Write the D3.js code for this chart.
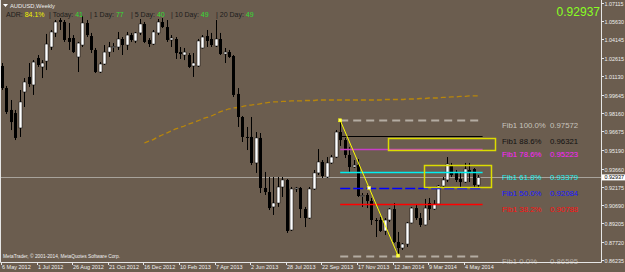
<!DOCTYPE html>
<html>
<head>
<meta charset="utf-8">
<script src="https://cdn.jsdelivr.net/npm/d3@7"></script>
<style>
  html, body { margin: 0; padding: 0; background: #6b5d4f; }
  svg { display: block; font-family: "Liberation Sans", Arial, sans-serif; }
</style>
</head>
<body>
<svg id="chart" width="625" height="272"></svg>
<script>
// weekly AUDUSD bars, first bar = week of 6 May 2012
const opens = [
  1.0198, 1.0019, 0.9841, 0.9816, 0.9695, 0.9987, 1.0109, 1.0044, 1.0263, 1.0190,
  1.0238, 1.0352, 1.0466, 1.0571, 1.0555, 1.0425, 1.0425, 1.0271, 1.0368, 1.0547,
  1.0441, 1.0328, 1.0149, 1.0214, 1.0311, 1.0352, 1.0352, 1.0417, 1.0368, 1.0449,
  1.0401, 1.0466, 1.0539, 1.0409, 1.0376, 1.0466, 1.0555, 1.0514, 1.0409, 1.0417,
  1.0311, 1.0287, 1.0287, 1.0198, 1.0198, 1.0344, 1.0441, 1.0417, 1.0360, 1.0417,
  1.0295, 1.0311, 1.0279, 0.9971, 0.9784, 0.9622, 0.9622, 0.9411, 0.9614, 0.9208,
  0.9175, 0.9054, 0.9086, 0.9216, 0.9273, 0.8867, 0.9200, 0.9208, 0.9037, 0.8964,
  0.9200, 0.9330, 0.9419, 0.9297, 0.9411, 0.9459, 0.9662, 0.9597, 0.9476, 0.9378,
  0.9394, 0.9143, 0.9151, 0.9102, 0.8948, 0.8948, 0.8859, 0.8948, 0.9037, 0.8770,
  0.8721, 0.8753, 0.8924, 0.9045, 0.8964, 0.8908, 0.9086, 0.9037, 0.9078, 0.9224,
  0.9273, 0.9394, 0.9330, 0.9281, 0.9256, 0.9354, 0.9362, 0.9232
];
const highs = [
  1.0222, 1.0036, 0.9922, 0.9841, 1.0003, 1.0100, 1.0222, 1.0246, 1.0287, 1.0246,
  1.0458, 1.0490, 1.0571, 1.0587, 1.0571, 1.0547, 1.0449, 1.0393, 1.0604, 1.0571,
  1.0466, 1.0344, 1.0230, 1.0368, 1.0393, 1.0384, 1.0474, 1.0433, 1.0474, 1.0466,
  1.0474, 1.0579, 1.0555, 1.0425, 1.0490, 1.0579, 1.0587, 1.0571, 1.0449, 1.0433,
  1.0352, 1.0344, 1.0303, 1.0303, 1.0417, 1.0449, 1.0490, 1.0466, 1.0571, 1.0466,
  1.0344, 1.0328, 1.0287, 1.0019, 0.9792, 0.9703, 0.9784, 0.9662, 0.9654, 0.9338,
  0.9297, 0.9297, 0.9297, 0.9297, 0.9281, 0.9216, 0.9216, 0.9216, 0.9054, 0.9216,
  0.9354, 0.9524, 0.9435, 0.9459, 0.9476, 0.9678, 0.97572, 0.9614, 0.9540, 0.9435,
  0.9443, 0.9167, 0.9167, 0.9127, 0.8964, 0.8972, 0.8964, 0.9045, 0.9086, 0.8851,
  0.8761, 0.8932, 0.9054, 0.9078, 0.9005, 0.9119, 0.9127, 0.9110, 0.9232, 0.9297,
  0.9459, 0.9411, 0.9354, 0.9330, 0.9411, 0.9411, 0.9370, 0.9313
];
const lows = [
  1.0003, 0.9808, 0.9678, 0.9597, 0.9622, 0.9865, 1.0027, 0.9963, 1.0190, 1.0100,
  1.0165, 1.0328, 1.0433, 1.0490, 1.0393, 1.0328, 1.0303, 1.0149, 1.0352, 1.0433,
  1.0303, 1.0141, 1.0141, 1.0206, 1.0271, 1.0311, 1.0328, 1.0287, 1.0328, 1.0393,
  1.0384, 1.0449, 1.0384, 1.0352, 1.0368, 1.0449, 1.0506, 1.0393, 1.0352, 1.0255,
  1.0255, 1.0246, 1.0182, 1.0109, 1.0190, 1.0340, 1.0352, 1.0352, 1.0352, 1.0287,
  1.0222, 1.0263, 0.9946, 0.9703, 0.9581, 0.9516, 0.9394, 0.9330, 0.9167, 0.9151,
  0.9029, 0.8989, 0.9054, 0.9135, 0.8843, 0.8859, 0.9175, 0.8964, 0.8891, 0.8956,
  0.9192, 0.9313, 0.9289, 0.9289, 0.9403, 0.9451, 0.9549, 0.9451, 0.9338, 0.9370,
  0.9135, 0.9054, 0.9045, 0.8908, 0.8810, 0.8851, 0.8826, 0.8932, 0.8761, 0.86595,
  0.8705, 0.8729, 0.8920, 0.8948, 0.8891, 0.8904, 0.8948, 0.9029, 0.9070, 0.9216,
  0.9256, 0.9297, 0.9256, 0.9208, 0.9248, 0.9256, 0.9216, 0.9208
];
const closes = [
  1.0019, 0.9825, 0.9743, 0.9614, 0.9906, 1.0068, 1.0052, 1.0230, 1.0206, 1.0222,
  1.0376, 1.0474, 1.0555, 1.0555, 1.0409, 1.0393, 1.0311, 1.0384, 1.0547, 1.0449,
  1.0328, 1.0149, 1.0214, 1.0311, 1.0352, 1.0356, 1.0417, 1.0368, 1.0449, 1.0409,
  1.0466, 1.0539, 1.0393, 1.0376, 1.0474, 1.0555, 1.0514, 1.0409, 1.0425, 1.0303,
  1.0295, 1.0311, 1.0190, 1.0222, 1.0401, 1.0433, 1.0401, 1.0368, 1.0417, 1.0295,
  1.0311, 1.0271, 0.9963, 0.9784, 0.9622, 0.9614, 0.9411, 0.9614, 0.9208, 0.9175,
  0.9045, 0.9086, 0.9216, 0.9273, 0.8859, 0.9200, 0.9208, 0.9037, 0.8964, 0.9200,
  0.9330, 0.9419, 0.9305, 0.9411, 0.9459, 0.9662, 0.9597, 0.9476, 0.9378, 0.9394,
  0.9143, 0.9147, 0.9102, 0.8948, 0.8940, 0.8859, 0.8948, 0.9037, 0.8770, 0.8721,
  0.8753, 0.8924, 0.9045, 0.8964, 0.8908, 0.9045, 0.9037, 0.9078, 0.9224, 0.9273,
  0.9403, 0.9313, 0.9273, 0.9256, 0.9362, 0.9330, 0.9232, 0.92937
];

// moving average, drawn from bar 32 on
const maStart = 32;
const maValues = [
  0.9573, 0.9589, 0.9601, 0.9622, 0.9638, 0.9654, 0.9670, 0.9687, 0.9699, 0.9711,
  0.9727, 0.9739, 0.9752, 0.9768, 0.9780, 0.9792, 0.9808, 0.9825, 0.9837, 0.9849,
  0.9857, 0.9861, 0.9869, 0.9877, 0.9881, 0.9885, 0.9890, 0.9898, 0.9902, 0.9906,
  0.9906, 0.9910, 0.9910, 0.9914, 0.9914, 0.9914, 0.9918, 0.9918, 0.9918, 0.9922,
  0.9922, 0.9922, 0.9922, 0.9922, 0.9922, 0.9922, 0.9922, 0.9922, 0.9922, 0.9922,
  0.9922, 0.9922, 0.9922, 0.9922, 0.9926, 0.9926, 0.9926, 0.9926, 0.9926, 0.9930,
  0.9930, 0.9930, 0.9934, 0.9934, 0.9938, 0.9938, 0.9938, 0.9943, 0.9943, 0.9947,
  0.9947, 0.9951, 0.9951, 0.9955, 0.9955, 0.9955
];

const dateLabels = ['6 May 2012', '1 Jul 2012', '26 Aug 2012', '21 Oct 2012', '16 Dec 2012',
  '10 Feb 2013', '7 Apr 2013', '2 Jun 2013', '28 Jul 2013', '22 Sep 2013', '17 Nov 2013',
  '12 Jan 2014', '9 Mar 2014', '4 May 2014'];
const dateLabelStep = 8;

const priceTicks = ['1.07115', '1.05630', '1.04145', '1.02615', '1.01130', '0.99645', '0.98160',
  '0.96675', '0.95190', '0.93660', '0.92175', '0.90690', '0.89205', '0.87720', '0.86235'];

const bid = 0.92937;

// fibo drawn from the swing high bar to the swing low bar
const fibHighBar = 76, fibLowBar = 89, fibEndBar = 108;
const fibNames = ['Fib1 100.0%', 'Fib1 88.6%', 'Fib1 78.6%', 'Fib1 61.8%', 'Fib1 50.0%', 'Fib1 38.2%', 'Fib1 0.0%'];
const fibPrices = [0.97572, 0.96321, 0.95223, 0.93379, 0.92084, 0.90788, 0.86595];

// user boxes: [from bar, to bar, top price, bottom price]
const boxes = [
  [86.7, 110.8, 0.9614, 0.9516],
  [94.8, 109.9, 0.9394, 0.9216]
];

// ADR indicator line
const adrParts = [
  ['ADR: ', '84.1%'], ['| Today: ', '41'], ['| 1 Day: ', '77'],
  ['| 5 Day: ', '40'], ['| 10 Day: ', '49'], ['|  20 Day: ', '49']
];

const fibStyle = [
  { line: '#b4aca2', text: '#c8c4be', width: 2, dash: '8,5' },
  { line: '#000000', text: '#111111', width: 1, dash: null },
  { line: '#c83cc8', text: '#ff20ff', width: 1.5, dash: null },
  { line: '#00f0f0', text: '#20f0f0', width: 1.5, dash: null },
  { line: '#0000ff', text: '#1818ff', width: 1.5, dash: '10,3' },
  { line: '#ff0000', text: '#ff1010', width: 1.5, dash: null },
  { line: '#b4aca2', text: '#b4aca2', width: 2, dash: '8,5' }
];

const svg = d3.select('#chart');
const plotRight = 601, plotBottom = 262;

const x = d3.scaleLinear().domain([0, 107]).range([2, 478.15]);
const y = d3.scaleLinear().domain([0.86235, 1.07115]).range([260, 2.7]);
const snap = v => Math.round(v) + 0.5;

svg.append('rect').attr('width', 625).attr('height', 272).attr('fill', '#6b5d4f');

// bid line
svg.append('line')
  .attr('x1', 0).attr('x2', plotRight)
  .attr('y1', snap(y(bid))).attr('y2', snap(y(bid)))
  .attr('stroke', '#a8a39c').attr('stroke-width', 1);

// moving average
const ma = maValues.map((v, k) => ({ i: maStart + k, v }));
svg.append('path')
  .datum(ma)
  .attr('d', d3.line().x(d => x(d.i)).y(d => y(d.v)).curve(d3.curveMonotoneX))
  .attr('fill', 'none')
  .attr('stroke', '#b8860b')
  .attr('stroke-width', 1.3)
  .attr('stroke-dasharray', '5,3');

// candles
const bars = opens.map((o, i) => ({ i, o, h: highs[i], l: lows[i], c: closes[i] }));
const cg = svg.append('g');
cg.selectAll('line').data(bars).join('line')
  .attr('x1', d => snap(x(d.i))).attr('x2', d => snap(x(d.i)))
  .attr('y1', d => y(d.h)).attr('y2', d => y(d.l))
  .attr('stroke', '#000').attr('stroke-width', 1);
cg.selectAll('rect').data(bars).join('rect')
  .attr('x', d => Math.round(x(d.i)) - 1)
  .attr('width', 3)
  .attr('y', d => y(Math.max(d.o, d.c)))
  .attr('height', d => Math.max(1, Math.abs(y(d.o) - y(d.c))))
  .attr('fill', d => d.c >= d.o ? '#fff' : '#000')
  .attr('stroke', d => d.c >= d.o ? '#000' : 'none')
  .attr('stroke-width', 0.5);

// fibo levels
const fg = svg.append('g');
fibPrices.forEach((p, k) => {
  const s = fibStyle[k];
  const yy = Math.round(y(p)) + 0.5;
  const ln = fg.append('line')
    .attr('x1', x(fibHighBar)).attr('x2', x(fibEndBar))
    .attr('y1', yy).attr('y2', yy)
    .attr('stroke', s.line).attr('stroke-width', s.width);
  if (s.dash) ln.attr('stroke-dasharray', s.dash);
  fg.append('text').attr('x', 502).attr('y', yy + 7.5)
    .attr('font-size', 7.8).attr('fill', s.text).text(fibNames[k]);
  fg.append('text').attr('x', 550).attr('y', yy + 7.5)
    .attr('font-size', 7.8).attr('fill', s.text).text(p.toFixed(5));
});

// boxes
svg.selectAll('rect.box').data(boxes).join('rect')
  .attr('class', 'box')
  .attr('x', d => Math.round(x(d[0])) + 0.5)
  .attr('y', d => Math.round(y(d[2])) + 0.5)
  .attr('width', d => Math.round(x(d[1]) - x(d[0])))
  .attr('height', d => Math.round(y(d[3]) - y(d[2])))
  .attr('fill', 'none').attr('stroke', '#dcdc00').attr('stroke-width', 1.5);

// swing trend line with its handles
const p1 = [x(fibHighBar), y(fibPrices[0])];
const p2 = [x(fibLowBar), y(fibPrices[6])];
svg.append('line')
  .attr('x1', p1[0]).attr('y1', p1[1]).attr('x2', p2[0]).attr('y2', p2[1])
  .attr('stroke', '#ffff00').attr('stroke-width', 1);
[p1, p2, [(p1[0] + p2[0]) / 2, (p1[1] + p2[1]) / 2]].forEach((pt, k) => {
  svg.append('rect')
    .attr('x', pt[0] - 1.5).attr('y', pt[1] - 1.5).attr('width', 3).attr('height', 3)
    .attr('fill', k < 2 ? '#ffff60' : '#ffffff')
    .attr('stroke', '#ffff00').attr('stroke-width', 0.5);
});

// frame
svg.append('path')
  .attr('d', `M0.5,0V${plotBottom + 0.5}H${plotRight + 0.5}V0`)
  .attr('fill', 'none').attr('stroke', '#e6e6e6').attr('stroke-width', 1);

// price axis
const ag = svg.append('g');
priceTicks.forEach(t => {
  const yy = Math.round(y(+t)) + 0.5;
  ag.append('line').attr('x1', plotRight).attr('x2', plotRight + 3)
    .attr('y1', yy).attr('y2', yy).attr('stroke', '#e6e6e6');
  ag.append('text').attr('x', 604.5).attr('y', yy + 2)
    .attr('font-size', 5.4).attr('fill', '#eeeeee').text(t);
});
const by = y(bid);
ag.append('rect').attr('x', 602).attr('y', by - 3).attr('width', 23).attr('height', 6).attr('fill', '#ffffff');
ag.append('text').attr('x', 604.5).attr('y', by + 2)
  .attr('font-size', 5.4).attr('fill', '#000').text(bid.toFixed(5));

// time axis
dateLabels.forEach((t, k) => {
  const xx = Math.round(x(k * dateLabelStep)) - 0.5;
  ag.append('line').attr('x1', xx).attr('x2', xx)
    .attr('y1', plotBottom).attr('y2', plotBottom + 3).attr('stroke', '#e6e6e6');
  ag.append('text').attr('x', xx + 0.5).attr('y', 268.5)
    .attr('font-size', 5.5).attr('fill', '#eeeeee').text(t);
});

// header
svg.append('path').attr('d', 'M3,4H8L5.5,7Z').attr('fill', '#ffffff');
svg.append('text').attr('x', 10).attr('y', 7.5)
  .attr('font-size', 5.8).attr('fill', '#ececec').text('AUDUSD,Weekly');

const adrX = [6, 49, 90, 131, 171, 216];
adrParts.forEach((part, k) => {
  const t = svg.append('text').attr('x', adrX[k]).attr('y', 16.8).attr('font-size', 7);
  t.append('tspan').attr('fill', '#1c1c1c').text(part[0]);
  t.append('tspan').attr('fill', k === 0 ? '#f0f000' : '#33dd33').text(part[1]);
});

svg.append('text').attr('x', 600).attr('y', 16).attr('text-anchor', 'end')
  .attr('font-size', 12).attr('fill', '#88ff22').text(bid.toFixed(5));

svg.append('text').attr('x', 3).attr('y', 258)
  .attr('font-size', 4.8).attr('fill', '#f0f0f0')
  .text('MetaTrader, \u00a9 2001-2014, MetaQuotes Software Corp.');
</script>
</body>
</html>
